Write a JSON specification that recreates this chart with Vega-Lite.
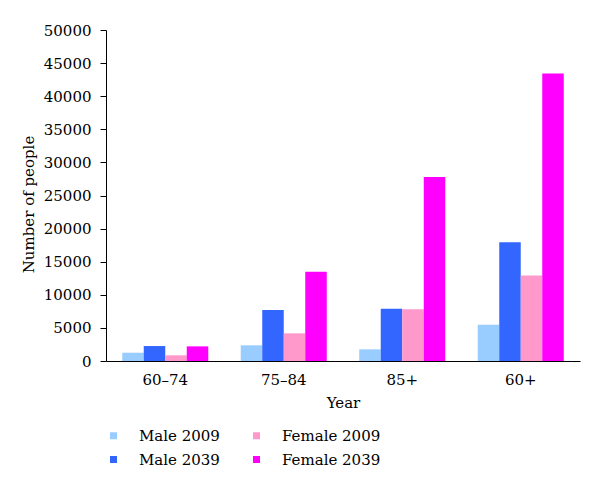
{
  "$schema": "https://vega.github.io/schema/vega-lite/v6.json",
  "width": 474,
  "height": 331,
  "autosize": {"type": "none"},
  "padding": {"left": 106, "top": 30, "right": 20, "bottom": 129},
  "background": "white",
  "config": {
    "view": {"stroke": null},
    "font": "DejaVu Serif",
    "axis": {"labelFont": "DejaVu Serif", "titleFont": "DejaVu Serif", "labelColor": "black", "titleColor": "black", "domainColor": "black", "tickColor": "black", "grid": false, "titleFontWeight": "normal", "labelFontSize": 15, "titleFontSize": 15},
    "legend": {"labelFont": "DejaVu Serif", "labelFontSize": 15, "labelColor": "black"}
  },
  "data": {
    "values": [
      {"age": "60–74", "series": "Male 2009", "value": 1250},
      {"age": "60–74", "series": "Male 2039", "value": 2260},
      {"age": "60–74", "series": "Female 2009", "value": 860},
      {"age": "60–74", "series": "Female 2039", "value": 2210},
      {"age": "75–84", "series": "Male 2009", "value": 2370},
      {"age": "75–84", "series": "Male 2039", "value": 7690},
      {"age": "75–84", "series": "Female 2009", "value": 4180},
      {"age": "75–84", "series": "Female 2039", "value": 13470},
      {"age": "85+", "series": "Male 2009", "value": 1760},
      {"age": "85+", "series": "Male 2039", "value": 7890},
      {"age": "85+", "series": "Female 2009", "value": 7800},
      {"age": "85+", "series": "Female 2039", "value": 27800},
      {"age": "60+", "series": "Male 2009", "value": 5480},
      {"age": "60+", "series": "Male 2039", "value": 17950},
      {"age": "60+", "series": "Female 2009", "value": 12920},
      {"age": "60+", "series": "Female 2039", "value": 43440}
    ]
  },
  "mark": {"type": "bar"},
  "encoding": {
    "x": {
      "field": "age", "type": "nominal", "sort": ["60–74", "75–84", "85+", "60+"],
      "scale": {"paddingInner": 0.274, "paddingOuter": 0.137},
      "axis": {"title": "Year", "labelAngle": 0, "ticks": false, "labelPadding": 11, "titlePadding": 8}
    },
    "xOffset": {"field": "series", "type": "nominal", "sort": ["Male 2009", "Male 2039", "Female 2009", "Female 2039"], "scale": {"paddingInner": 0, "paddingOuter": 0}},
    "y": {
      "field": "value", "type": "quantitative",
      "scale": {"domain": [0, 50000], "nice": false},
      "axis": {"title": "Number of people", "values": [0, 5000, 10000, 15000, 20000, 25000, 30000, 35000, 40000, 45000, 50000], "format": "d", "tickSize": 6, "labelPadding": 9, "titlePadding": 7, "titleY": 174}
    },
    "color": {
      "field": "series", "type": "nominal",
      "scale": {"domain": ["Male 2009", "Male 2039", "Female 2009", "Female 2039"], "range": ["#99ccff", "#3366ff", "#ff99cc", "#ff00ff"]},
      "legend": {"title": null, "orient": "none", "legendX": 0, "legendY": 398, "columns": 2, "symbolType": "square", "symbolSize": 49, "symbolStrokeWidth": 0, "labelOffset": 18, "columnPadding": 29, "rowPadding": 8}
    }
  }
}
